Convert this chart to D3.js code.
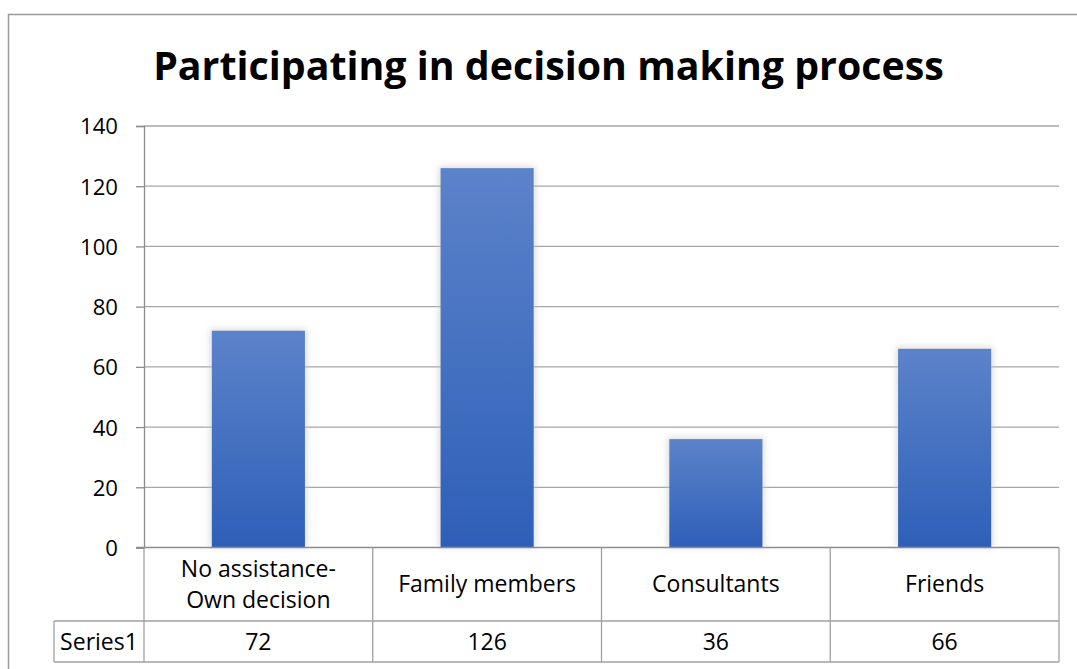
<!DOCTYPE html>
<html>
<head>
<meta charset="utf-8">
<script src="https://cdn.jsdelivr.net/npm/d3@7"></script>
<style>
  html, body { margin: 0; padding: 0; background: #fff; }
  svg { display: block; }
  text { font-family: "Open Sans", "Noto Sans", sans-serif; fill: #000; font-variant-ligatures: none; }
</style>
</head>
<body>
<svg id="chart" width="1077" height="669"></svg>
<script>
// Chart data
const categories = [["No assistance-", "Own decision"], ["Family members"], ["Consultants"], ["Friends"]];
const seriesName = "Series1";
const values = [72, 126, 36, 66];
const yTicks = [0, 20, 40, 60, 80, 100, 120, 140];
const title = "Participating in decision making process";

const W = 1077, H = 669;
const FONT = "'Open Sans', 'Noto Sans', sans-serif";
const svg = d3.select("#chart");

// Pick a font size so that a sample string spans the wanted width
function fitSize(sample, width, weight) {
  const t = svg.append("text").attr("font-family", FONT)
    .attr("font-weight", weight || "normal").attr("font-size", 100).text(sample);
  const w = t.node().getComputedTextLength();
  t.remove();
  return 100 * width / w;
}
const titleSize = fitSize(title, 791, "bold");
const labelSize = fitSize("Family members", 178);
const tickSize = fitSize("140", 38);

const plot = { left: 144, right: 1059, top: 126, bottom: 547.5 };
const table = { labelLeft: 54, catBottom: 621, bottom: 662 };

const keys = categories.map((c, i) => i);
const x = d3.scaleBand().domain(keys).range([plot.left, plot.right]).padding(0);
const y = d3.scaleLinear().domain([0, 140]).range([plot.bottom, plot.top]);

const defs = svg.append("defs");
const grad = defs.append("linearGradient").attr("id", "barGrad")
  .attr("x1", 0).attr("y1", 0).attr("x2", 0).attr("y2", 1);
grad.append("stop").attr("offset", "0%").attr("stop-color", "#5c83ca");
grad.append("stop").attr("offset", "100%").attr("stop-color", "#2e5fb8");
const blur = defs.append("filter").attr("id", "halo")
  .attr("x", "-20%").attr("y", "-20%").attr("width", "140%").attr("height", "140%");
blur.append("feGaussianBlur").attr("stdDeviation", 3);

// Outer frame
svg.append("path")
  .attr("d", `M${W + 2},14.5 H8.5 V${H + 2}`)
  .attr("fill", "none").attr("stroke", "#9a9a9a").attr("stroke-width", 1.5);

// Title
svg.append("text")
  .attr("x", 548.5).attr("y", 80)
  .attr("text-anchor", "middle")
  .attr("font-weight", "bold")
  .attr("font-size", titleSize)
  .text(title);

// Gridlines
svg.append("g").selectAll("line").data(yTicks.filter(t => t > 0)).join("line")
  .attr("x1", plot.left).attr("x2", plot.right)
  .attr("y1", d => y(d)).attr("y2", d => y(d))
  .attr("stroke", "#a6a6a6").attr("stroke-width", 1.3);

// Y axis
const yAxis = d3.axisLeft(y).tickValues(yTicks).tickSize(8).tickPadding(18);
const gy = svg.append("g").attr("transform", `translate(${plot.left},0)`).call(yAxis);
gy.select(".domain").attr("stroke", "#8c8c8c").attr("stroke-width", 1.3);
gy.selectAll(".tick line").attr("stroke", "#8c8c8c").attr("stroke-width", 1.3);
gy.selectAll(".tick text")
  .attr("font-family", FONT)
  .attr("font-size", tickSize).attr("fill", "#000")
  .attr("dy", "0.36em");

// Bars
const bw = x.bandwidth() * 0.407;
const bars = svg.append("g");
bars.selectAll("rect.halo").data(values).join("rect").attr("class", "halo")
  .attr("x", (d, i) => x(i) + (x.bandwidth() - bw) / 2 - 2)
  .attr("y", d => y(d) - 2)
  .attr("width", bw + 4)
  .attr("height", d => y(0) - y(d) + 2)
  .attr("fill", "#c8c8c8").attr("opacity", 0.6)
  .attr("filter", "url(#halo)");
bars.selectAll("rect.bar").data(values).join("rect").attr("class", "bar")
  .attr("x", (d, i) => x(i) + (x.bandwidth() - bw) / 2)
  .attr("y", d => y(d))
  .attr("width", bw)
  .attr("height", d => y(0) - y(d))
  .attr("fill", "url(#barGrad)");

// Baseline (x axis)
svg.append("line")
  .attr("x1", 136).attr("x2", plot.right)
  .attr("y1", y(0)).attr("y2", y(0))
  .attr("stroke", "#8c8c8c").attr("stroke-width", 1.5);

// Data table
const tg = svg.append("g").attr("stroke", "#a0a0a0").attr("stroke-width", 1.3);
const colEdges = keys.map(k => x(k)).concat([plot.right]);
tg.selectAll("line.v").data(colEdges).join("line").attr("class", "v")
  .attr("x1", d => d).attr("x2", d => d)
  .attr("y1", y(0)).attr("y2", table.bottom);
tg.append("line").attr("x1", table.labelLeft).attr("x2", table.labelLeft)
  .attr("y1", table.catBottom).attr("y2", table.bottom);
tg.append("line").attr("x1", table.labelLeft).attr("x2", plot.right)
  .attr("y1", table.catBottom).attr("y2", table.catBottom);
tg.append("line").attr("x1", table.labelLeft).attr("x2", plot.right)
  .attr("y1", table.bottom).attr("y2", table.bottom);

// Category labels
const lineH = 31;
svg.append("g").selectAll("text").data(categories).join("text")
  .attr("x", (d, i) => x(i) + x.bandwidth() / 2)
  .attr("text-anchor", "middle")
  .attr("font-size", labelSize)
  .each(function (d) {
    const t = d3.select(this);
    const y0 = 592 - (d.length - 1) * lineH / 2;
    d.forEach((line, j) => {
      t.append("tspan").attr("x", t.attr("x")).attr("y", y0 + j * lineH).text(line);
    });
  });

// Series row
const rowBase = 650;
svg.append("text")
  .attr("x", (table.labelLeft + plot.left) / 2).attr("y", rowBase)
  .attr("text-anchor", "middle").attr("font-size", labelSize)
  .text(seriesName);
svg.append("g").selectAll("text").data(values).join("text")
  .attr("x", (d, i) => x(i) + x.bandwidth() / 2)
  .attr("y", rowBase)
  .attr("text-anchor", "middle").attr("font-size", labelSize)
  .text(d => d);
</script>
</body>
</html>
